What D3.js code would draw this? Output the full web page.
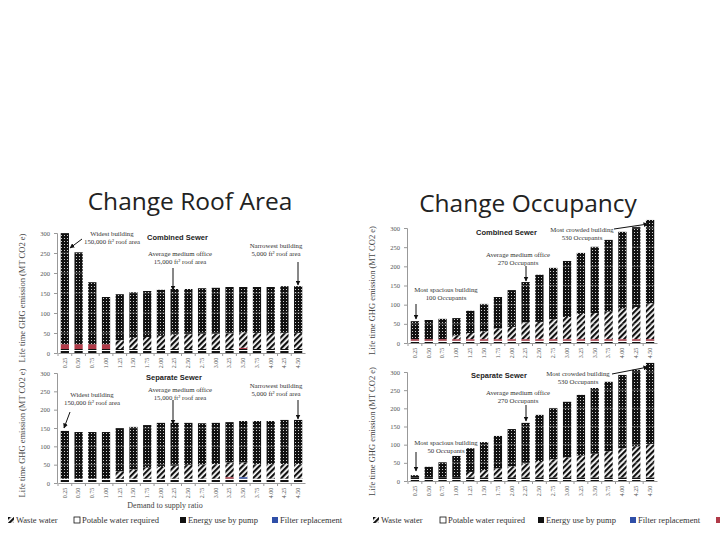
<!DOCTYPE html>
<html><head><meta charset="utf-8">
<script src="https://cdn.jsdelivr.net/npm/d3@7"></script>
<style>body{margin:0;background:#fff}svg{display:block}</style>
</head><body>
<svg id="c" width="720" height="540"></svg>
<script>
// ---------- data ----------
const ratioLabels = ["0.25","0.50","0.75","1.00","1.25","1.50","1.75","2.00","2.25","2.50","2.75","3.00","3.25","3.50","3.75","4.00","4.25","4.50"];
const seriesNames = ["Energy use by pump","Other","Filter replacement","Waste water","Potable water required"];
const yTicks = [0,50,100,150,200,250,300];

// Change Roof Area – Combined Sewer
const roofCombEnergy  = [10,10,10,10,10,10,10,10,10,10,10,10,10,10,10,10,10,10];
const roofCombOther   = [12,12,12,12,0,0,0,0,0,0,0,0,0,3,0,0,0,0];
const roofCombFilter  = [0,0,0,0,0,0,0,0,0,0,0,0,0,0,0,0,0,0];
const roofCombWaste   = [0,0,0,0,22,28,30,33,36,37,38,38,39,39,40,40,40,40];
const roofCombPotable = [278,230,155,118,115,114,115,115,114,113,114,115,116,113,115,115,117,117];

// Change Roof Area – Separate Sewer
const roofSepEnergy  = [12,12,12,12,12,12,12,12,12,12,12,12,12,12,12,12,12,12];
const roofSepOther   = [0,0,0,0,0,0,0,0,0,0,0,0,4,0,0,0,0,0];
const roofSepFilter  = [0,0,0,0,0,0,0,0,0,0,0,0,0,4,0,0,0,0];
const roofSepWaste   = [0,0,0,0,20,25,30,32,35,37,38,40,40,40,40,40,40,40];
const roofSepPotable = [130,127,127,127,118,116,116,120,117,115,113,112,110,113,117,117,120,120];

// Change Occupancy – Combined Sewer
const occCombEnergy  = [6,6,6,6,6,6,6,6,6,6,6,6,6,6,6,6,6,6];
const occCombOther   = [4,4,4,4,4,4,4,4,4,4,4,4,4,4,4,4,4,4];
const occCombFilter  = [0,0,0,0,0,0,0,0,0,0,0,0,0,0,0,0,0,0];
const occCombWaste   = [0,0,0,10,16,20,28,32,44,45,52,58,66,68,72,80,84,94];
const occCombPotable = [47,50,53,45,58,72,82,96,105,123,134,146,159,173,187,200,209,217];

// Change Occupancy – Separate Sewer
const occSepEnergy  = [10,10,10,10,10,10,10,10,10,10,10,10,10,10,10,10,10,10];
const occSepOther   = [0,0,0,0,0,0,0,0,0,0,0,0,0,0,0,0,0,0];
const occSepFilter  = [0,0,0,0,0,0,0,0,0,0,0,0,0,0,0,0,0,0];
const occSepWaste   = [0,0,0,0,15,20,25,30,38,45,50,55,60,65,72,80,85,92];
const occSepPotable = [6,29,42,59,65,77,89,103,112,127,141,153,167,181,191,202,211,223];

// ---------- drawing ----------
const svg = d3.select("#c");
const defs = svg.append("defs");
const pEn = defs.append("pattern").attr("id","pEnergy").attr("patternUnits","userSpaceOnUse").attr("width",4).attr("height",3);
pEn.append("rect").attr("width",4).attr("height",3).attr("fill","#111");
pEn.append("rect").attr("y",2).attr("width",4).attr("height",1).attr("fill","#fff");
const pW = defs.append("pattern").attr("id","pWaste").attr("patternUnits","userSpaceOnUse").attr("width",4).attr("height",4).attr("patternTransform","rotate(45)");
pW.append("rect").attr("width",4).attr("height",4).attr("fill","#fff");
pW.append("rect").attr("width",2.2).attr("height",4).attr("fill","#111");
const pP = defs.append("pattern").attr("id","pPotable").attr("patternUnits","userSpaceOnUse").attr("width",3).attr("height",3);
pP.append("rect").attr("width",3).attr("height",3).attr("fill","#111");
pP.append("rect").attr("x",1).attr("y",1).attr("width",0.9).attr("height",0.9).attr("fill","#fff");
const mk = defs.append("marker").attr("id","arr").attr("viewBox","0 0 10 10").attr("refX",9).attr("refY",5)
  .attr("markerWidth",5).attr("markerHeight",5).attr("orient","auto");
mk.append("path").attr("d","M0,0L10,5L0,10z").attr("fill","#111");

const fills = {"Energy use by pump":"url(#pEnergy)","Other":"#b03a48","Filter replacement":"#2f4fa8","Waste water":"url(#pWaste)","Potable water required":"url(#pPotable)"};

function drawPanel(cfg){
  const g = svg.append("g");
  const x = d3.scaleBand().domain(ratioLabels).range([cfg.x0,cfg.x1]).paddingInner(0.4).paddingOuter(0.2);
  const y = d3.scaleLinear().domain([0,300]).range([cfg.yb,cfg.yt]);
  const rows = ratioLabels.map((r,i)=>{
    const o={label:r}; seriesNames.forEach((s,k)=>o[s]=cfg.series[k][i]); return o;});
  const stack = d3.stack().keys(seriesNames)(rows);
  g.selectAll("g.s").data(stack).join("g").attr("fill",d=>fills[d.key])
    .selectAll("rect").data(d=>d).join("rect")
    .attr("x",d=>x(d.data.label)).attr("width",x.bandwidth())
    .attr("y",d=>y(d[1])).attr("height",d=>Math.max(0,y(d[0])-y(d[1])));
  g.selectAll("line.gr").data(yTicks.slice(1)).join("line")
    .attr("x1",cfg.x0).attr("x2",cfg.x1).attr("y1",d=>y(d)).attr("y2",d=>y(d))
    .attr("stroke","#fff").attr("stroke-opacity",0.35).attr("stroke-width",0.8);
  const ya = g.append("g").attr("transform",`translate(${cfg.x0-1},0)`)
    .call(d3.axisLeft(y).tickValues(yTicks).tickSize(3).tickPadding(4));
  ya.select(".domain").attr("stroke","#999");
  ya.selectAll(".tick line").attr("stroke","#999");
  ya.selectAll("text").attr("font-family","Liberation Serif").attr("font-size",6.5).attr("fill","#555");
  const xa = g.append("g").attr("transform",`translate(0,${cfg.yb})`)
    .call(d3.axisBottom(x).tickSize(0).tickPadding(3));
  xa.select(".domain").attr("stroke","#999");
  xa.selectAll("text").attr("font-family","Liberation Serif").attr("font-size",6).attr("fill","#555")
    .attr("text-anchor","end").attr("dx","-0.3em").attr("dy","0.3em").attr("x",0).attr("y",0)
    .attr("transform","translate(0,3) rotate(-90)");
  g.selectAll("line.sep").data(ratioLabels).join("line")
    .attr("x1",d=>x(d)-x.step()*0.2).attr("x2",d=>x(d)-x.step()*0.2)
    .attr("y1",cfg.yb).attr("y2",cfg.yb+3).attr("stroke","#999");
  g.append("text").attr("transform",`translate(${cfg.x0-33},${(cfg.yt+cfg.yb)/2+5}) rotate(-90)`)
    .attr("text-anchor","middle").attr("font-family","Liberation Serif").attr("font-size",8.5).attr("fill","#444")
    .text("Life time GHG emission (MT CO2 e)");
  g.append("text").attr("x",cfg.titleX).attr("y",cfg.titleY).attr("font-family","Liberation Sans").attr("font-weight","bold")
    .attr("font-size",7.5).attr("fill","#222").text(cfg.title);
  cfg.notes.forEach(n=>{
    const t = g.append("text").attr("font-family","Liberation Serif").attr("font-size",6.8).attr("fill","#333")
      .attr("text-anchor",n.anchor||"middle");
    n.lines.forEach((l,i)=>t.append("tspan").attr("x",n.x).attr("y",n.y+i*8).text(l));
    g.append("line").attr("x1",n.ax1).attr("y1",n.ay1).attr("x2",n.ax2).attr("y2",n.ay2)
      .attr("stroke","#111").attr("stroke-width",1).attr("marker-end","url(#arr)");
  });
}

svg.append("text").attr("x",190).attr("y",210).attr("text-anchor","middle").attr("font-family","Open Sans")
  .attr("font-size",24.5).attr("fill","#222").text("Change Roof Area");
svg.append("text").attr("x",528).attr("y",212).attr("text-anchor","middle").attr("font-family","Open Sans")
  .attr("font-size",24.5).attr("fill","#222").text("Change Occupancy");

drawPanel({x0:58,x1:305,yt:233,yb:353,title:"Combined Sewer",titleX:147,titleY:240,
  series:[roofCombEnergy,roofCombOther,roofCombFilter,roofCombWaste,roofCombPotable],
  notes:[
    {x:112,y:236,lines:["Widest building","150,000 ft² roof area"],ax1:82,ay1:239,ax2:70,ay2:248},
    {x:180,y:256,lines:["Average medium office","15,000 ft² roof area"],ax1:173,ay1:268,ax2:173,ay2:290},
    {x:276,y:248,lines:["Narrowest building","5,000 ft² roof area"],ax1:298,ay1:262,ax2:298,ay2:285}
  ]});
drawPanel({x0:58,x1:305,yt:373,yb:483,title:"Separate Sewer",titleX:146,titleY:380,
  series:[roofSepEnergy,roofSepOther,roofSepFilter,roofSepWaste,roofSepPotable],
  notes:[
    {x:92,y:397,lines:["Widest building","150,000 ft² roof area"],ax1:70,ay1:412,ax2:64,ay2:428},
    {x:180,y:392,lines:["Average medium office","15,000 ft² roof area"],ax1:173,ay1:400,ax2:173,ay2:424},
    {x:276,y:388,lines:["Narrowest building","5,000 ft² roof area"],ax1:298,ay1:400,ax2:298,ay2:419}
  ]});
drawPanel({x0:408,x1:657,yt:228,yb:343,title:"Combined Sewer",titleX:476,titleY:235,
  series:[occCombEnergy,occCombOther,occCombFilter,occCombWaste,occCombPotable],
  notes:[
    {x:582,y:232,lines:["Most crowded building","530 Occupants"],ax1:614,ay1:229,ax2:648,ay2:224},
    {x:518,y:257,lines:["Average medium office","270 Occupants"],ax1:526,ay1:266,ax2:526,ay2:281},
    {x:446,y:292,lines:["Most spacious building","100 Occupants"],ax1:416,ay1:304,ax2:416,ay2:319}
  ]});
drawPanel({x0:408,x1:657,yt:372,yb:481,title:"Separate Sewer",titleX:471,titleY:378,
  series:[occSepEnergy,occSepOther,occSepFilter,occSepWaste,occSepPotable],
  notes:[
    {x:578,y:376,lines:["Most crowded building","530 Occupants"],ax1:612,ay1:374,ax2:648,ay2:367},
    {x:518,y:395,lines:["Average medium office","270 Occupants"],ax1:526,ay1:405,ax2:526,ay2:421},
    {x:446,y:445,lines:["Most spacious building","50 Occupants"],ax1:416,ay1:452,ax2:416,ay2:471}
  ]});

svg.append("text").attr("x",165).attr("y",508).attr("text-anchor","middle").attr("font-family","Liberation Serif")
  .attr("font-size",8).attr("fill","#444").text("Demand to supply ratio");

const legendNames = ["Waste water","Potable water required","Energy use by pump","Filter replacement"];
const legFill = {"Waste water":"url(#pWaste)","Potable water required":"#fff","Energy use by pump":"#111","Filter replacement":"#2f4fa8"};
function legend(xs){
  legendNames.forEach((n,i)=>{
    const lg = svg.append("g").attr("transform",`translate(${xs[i]},517)`);
    lg.append("rect").attr("width",6).attr("height",6).attr("fill",legFill[n])
      .attr("stroke",n==="Potable water required"?"#111":"none").attr("stroke-width",0.8);
    lg.append("text").attr("x",8).attr("y",6).attr("font-family","Liberation Serif").attr("font-size",8.5)
      .attr("fill","#333").text(n);
  });
}
legend([8,74,180,272]);
legend([373,440,538,630]);
svg.append("rect").attr("x",716).attr("y",517).attr("width",6).attr("height",6).attr("fill","#b03a48");
</script>
</body></html>
